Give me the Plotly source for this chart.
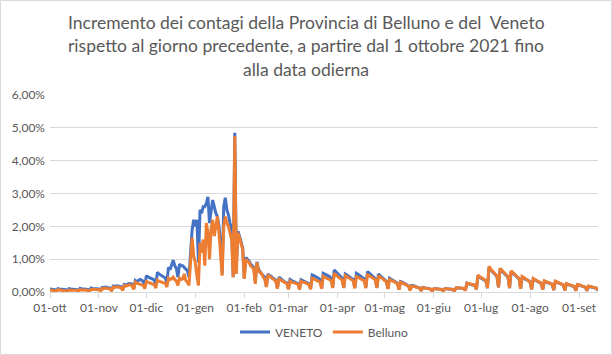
import pandas as pd
import plotly.graph_objects as go

# ---- data (daily % increase), from 1 Oct 2021 ----
start_date = "2021-10-01"

veneto = [
    0.09, 0.08, 0.08, 0.07, 0.03, 0.10, 0.09,
    0.08, 0.08, 0.07, 0.07, 0.03, 0.10, 0.09,
    0.09, 0.08, 0.08, 0.07, 0.03, 0.11, 0.10,
    0.10, 0.09, 0.09, 0.08, 0.03, 0.12, 0.11,
    0.11, 0.10, 0.10, 0.09, 0.04, 0.14, 0.13,
    0.15, 0.14, 0.13, 0.12, 0.05, 0.18, 0.17,
    0.19, 0.18, 0.17, 0.16, 0.06, 0.23, 0.21,
    0.24, 0.26, 0.25, 0.23, 0.10, 0.35, 0.32,
    0.36, 0.38, 0.36, 0.33, 0.15, 0.50, 0.46,
    0.44, 0.42, 0.40, 0.37, 0.20, 0.60, 0.55,
    0.52, 0.50, 0.47, 0.43, 0.28, 0.75, 0.68,
    0.85, 0.97, 0.80, 0.72, 0.45, 0.85, 0.80,
    0.80, 0.75, 0.70, 0.65, 0.45, 1.30, 1.90,
    2.20, 2.00, 2.20, 0.90, 2.50, 2.40, 2.60,
    2.60, 2.70, 2.90, 2.10, 2.40, 2.80, 2.60,
    2.40, 2.30, 2.00, 1.50, 0.55, 2.60, 2.87,
    2.50, 2.35, 2.10, 1.90, 0.45, 4.85, 0.90,
    1.85, 1.70, 1.50, 1.35, 0.42, 1.05, 1.00,
    0.95, 0.85, 0.80, 0.75, 0.30, 0.92, 0.70,
    0.60, 0.55, 0.50, 0.45, 0.16, 0.55, 0.50,
    0.48, 0.42, 0.40, 0.35, 0.12, 0.45, 0.40,
    0.37, 0.33, 0.30, 0.28, 0.10, 0.38, 0.35,
    0.32, 0.30, 0.28, 0.26, 0.08, 0.37, 0.35,
    0.33, 0.30, 0.28, 0.25, 0.10, 0.52, 0.50,
    0.48, 0.45, 0.42, 0.38, 0.12, 0.57, 0.55,
    0.52, 0.50, 0.47, 0.42, 0.15, 0.67, 0.62,
    0.55, 0.50, 0.47, 0.42, 0.14, 0.55, 0.52,
    0.48, 0.45, 0.42, 0.38, 0.13, 0.57, 0.54,
    0.50, 0.47, 0.44, 0.40, 0.14, 0.62, 0.58,
    0.53, 0.50, 0.46, 0.40, 0.13, 0.55, 0.50,
    0.45, 0.40, 0.37, 0.33, 0.10, 0.42, 0.39,
    0.36, 0.33, 0.30, 0.27, 0.08, 0.32, 0.30,
    0.27, 0.24, 0.22, 0.19, 0.06, 0.20, 0.19,
    0.17, 0.16, 0.14, 0.12, 0.04, 0.14, 0.13,
    0.12, 0.11, 0.10, 0.09, 0.03, 0.10, 0.10,
    0.09, 0.09, 0.08, 0.08, 0.03, 0.10, 0.10,
    0.09, 0.09, 0.08, 0.08, 0.03, 0.12, 0.13,
    0.12, 0.13, 0.12, 0.11, 0.05, 0.27, 0.25,
    0.24, 0.23, 0.22, 0.20, 0.08, 0.50, 0.45,
    0.42, 0.40, 0.37, 0.34, 0.12, 0.75, 0.68,
    0.62, 0.58, 0.53, 0.47, 0.14, 0.70, 0.65,
    0.60, 0.55, 0.50, 0.45, 0.12, 0.62, 0.58,
    0.53, 0.48, 0.44, 0.40, 0.10, 0.45, 0.42,
    0.40, 0.37, 0.34, 0.30, 0.08, 0.40, 0.37,
    0.35, 0.32, 0.29, 0.26, 0.07, 0.33, 0.31,
    0.29, 0.27, 0.25, 0.23, 0.06, 0.32, 0.30,
    0.28, 0.26, 0.24, 0.21, 0.05, 0.25, 0.23,
    0.21, 0.20, 0.18, 0.16, 0.04, 0.22, 0.21,
    0.19, 0.18, 0.16, 0.14, 0.04, 0.17, 0.16,
    0.15, 0.14, 0.13, 0.11, 0.04,
]

belluno = [
    0.06, 0.05, 0.05, 0.05, 0.02, 0.07, 0.06,
    0.05, 0.05, 0.05, 0.04, 0.02, 0.06, 0.06,
    0.06, 0.05, 0.05, 0.05, 0.02, 0.07, 0.06,
    0.07, 0.06, 0.06, 0.05, 0.02, 0.08, 0.08,
    0.09, 0.08, 0.08, 0.07, 0.03, 0.11, 0.10,
    0.12, 0.11, 0.10, 0.09, 0.04, 0.15, 0.14,
    0.16, 0.15, 0.14, 0.13, 0.05, 0.19, 0.18,
    0.20, 0.22, 0.21, 0.19, 0.08, 0.30, 0.27,
    0.25, 0.24, 0.22, 0.20, 0.10, 0.32, 0.30,
    0.28, 0.26, 0.25, 0.22, 0.12, 0.36, 0.33,
    0.32, 0.30, 0.28, 0.26, 0.15, 0.42, 0.38,
    0.40, 0.45, 0.38, 0.33, 0.20, 0.42, 0.38,
    0.40, 0.55, 0.35, 0.30, 0.20, 0.90, 1.65,
    1.10, 0.90, 0.50, 0.20, 1.50, 1.20, 1.60,
    0.80, 2.10, 1.80, 1.00, 1.90, 2.20, 1.70,
    2.00, 2.30, 1.80, 1.20, 0.50, 2.00, 2.30,
    2.10, 2.00, 1.80, 1.60, 0.45, 4.75, 0.55,
    1.80, 1.65, 1.50, 1.30, 0.40, 1.00, 0.95,
    0.90, 0.80, 0.75, 0.70, 0.25, 0.90, 0.65,
    0.60, 0.55, 0.45, 0.40, 0.15, 0.52, 0.48,
    0.45, 0.40, 0.37, 0.33, 0.10, 0.40, 0.37,
    0.33, 0.30, 0.28, 0.25, 0.08, 0.33, 0.30,
    0.28, 0.27, 0.25, 0.24, 0.07, 0.33, 0.30,
    0.30, 0.27, 0.25, 0.22, 0.08, 0.42, 0.40,
    0.38, 0.35, 0.33, 0.30, 0.10, 0.48, 0.45,
    0.42, 0.40, 0.38, 0.35, 0.12, 0.57, 0.52,
    0.47, 0.44, 0.40, 0.36, 0.12, 0.50, 0.47,
    0.43, 0.40, 0.37, 0.34, 0.11, 0.47, 0.45,
    0.42, 0.40, 0.37, 0.34, 0.12, 0.52, 0.50,
    0.47, 0.44, 0.41, 0.37, 0.12, 0.50, 0.46,
    0.42, 0.38, 0.35, 0.31, 0.09, 0.38, 0.36,
    0.33, 0.30, 0.28, 0.25, 0.07, 0.30, 0.28,
    0.25, 0.22, 0.20, 0.18, 0.05, 0.18, 0.17,
    0.16, 0.15, 0.13, 0.12, 0.04, 0.13, 0.12,
    0.11, 0.10, 0.10, 0.09, 0.03, 0.10, 0.10,
    0.09, 0.09, 0.08, 0.08, 0.03, 0.10, 0.10,
    0.09, 0.09, 0.08, 0.08, 0.03, 0.12, 0.13,
    0.12, 0.13, 0.12, 0.11, 0.05, 0.27, 0.26,
    0.25, 0.24, 0.23, 0.21, 0.08, 0.52, 0.47,
    0.44, 0.42, 0.39, 0.35, 0.12, 0.78, 0.70,
    0.64, 0.60, 0.55, 0.49, 0.14, 0.72, 0.67,
    0.62, 0.57, 0.52, 0.47, 0.12, 0.64, 0.60,
    0.55, 0.50, 0.46, 0.41, 0.10, 0.47, 0.44,
    0.41, 0.38, 0.35, 0.31, 0.08, 0.41, 0.38,
    0.36, 0.33, 0.30, 0.27, 0.07, 0.34, 0.32,
    0.30, 0.28, 0.26, 0.24, 0.06, 0.33, 0.31,
    0.29, 0.27, 0.25, 0.22, 0.05, 0.26, 0.24,
    0.22, 0.21, 0.19, 0.17, 0.04, 0.23, 0.22,
    0.20, 0.19, 0.17, 0.15, 0.04, 0.18, 0.17,
    0.16, 0.15, 0.14, 0.12, 0.05,
]

tick_dates = ["2021-10-01", "2021-11-01", "2021-12-01", "2022-01-01", "2022-02-01",
              "2022-03-01", "2022-04-01", "2022-05-01", "2022-06-01", "2022-07-01",
              "2022-08-01", "2022-09-01"]
tick_labels = ["01-ott", "01-nov", "01-dic", "01-gen", "01-feb", "01-mar",
               "01-apr", "01-mag", "01-giu", "01-lug", "01-ago", "01-set"]
y_ticks = [0, 1, 2, 3, 4, 5, 6]
y_labels = ["0,00%", "1,00%", "2,00%", "3,00%", "4,00%", "5,00%", "6,00%"]

title_lines = [
    "Incremento dei contagi della Provincia di Belluno e del  Veneto",
    "rispetto al giorno precedente, a partire dal 1 ottobre 2021 fino",
    "alla data odierna",
]

dates = pd.date_range(start_date, periods=len(veneto), freq="D")

W, H = 612, 355
L, R, T, B = 50, 14, 95, 63
FONT = "Lato"
GRAY = "#595959"
GRID = "#D9D9D9"

fig = go.Figure()
fig.add_trace(go.Scatter(x=dates, y=veneto, mode="lines", name="VENETO",
                         line=dict(color="#4472C4", width=3)))
fig.add_trace(go.Scatter(x=dates, y=belluno, mode="lines", name="Belluno",
                         line=dict(color="#ED7D31", width=3)))

pw, ph = W - L - R, H - T - B


def py2paper(py):
    return (H - B - py) / ph


def px2paper(px):
    return (px - L) / pw


fig.add_shape(type="rect", xref="paper", yref="paper",
              x0=px2paper(0.5), x1=px2paper(W - 0.5),
              y0=py2paper(H - 0.5), y1=py2paper(0.5),
              line=dict(color=GRID, width=1), layer="below")

for i, line in enumerate(title_lines):
    fig.add_annotation(text=line, xref="paper", yref="paper",
                       x=px2paper(W / 2), y=py2paper(22 + 23.5 * i),
                       xanchor="center", yanchor="middle", showarrow=False,
                       font=dict(family=FONT, size=17.5, color=GRAY))

fig.update_layout(
    width=W, height=H,
    margin=dict(l=L, r=R, t=T, b=B, autoexpand=False),
    paper_bgcolor="white", plot_bgcolor="white",
    font=dict(family=FONT, size=12, color=GRAY),
    showlegend=True,
    legend=dict(orientation="h", x=0.5, xanchor="center",
                y=py2paper(332), yanchor="middle",
                font=dict(family=FONT, size=12, color=GRAY),
                itemwidth=30, tracegroupgap=0),
    xaxis=dict(type="date", range=[dates[0], dates[-1]],
               tickvals=tick_dates, ticktext=tick_labels,
               showgrid=False, showline=True, linecolor=GRID, linewidth=1,
               ticks="outside", ticklen=5, tickcolor=GRID,
               tickfont=dict(family=FONT, size=12, color=GRAY),
               zeroline=False, automargin=False),
    yaxis=dict(range=[0, 6], tickvals=y_ticks, ticktext=y_labels,
               showgrid=True, gridcolor=GRID, gridwidth=1,
               zeroline=False, showline=False, ticks="", automargin=False,
               ticklabelstandoff=4,
               tickfont=dict(family=FONT, size=12, color=GRAY)),
)

fig.write_html("out.html",
               config={"displayModeBar": False},
               post_script="document.body.style.margin='0';"
                           "document.body.style.padding='0';")
